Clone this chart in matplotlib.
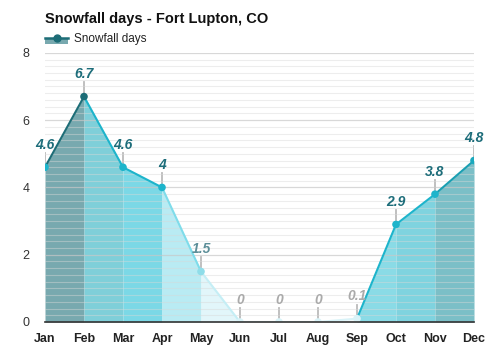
import matplotlib.pyplot as plt
from matplotlib.lines import Line2D
from matplotlib.patches import Rectangle
import numpy as np

plt.rcParams['font.family'] = ['Liberation Sans', 'DejaVu Sans']

months = ['Jan', 'Feb', 'Mar', 'Apr', 'May', 'Jun', 'Jul', 'Aug', 'Sep', 'Oct', 'Nov', 'Dec']
snow_days = [4.6, 6.7, 4.6, 4.0, 1.5, 0.0, 0.0, 0.0, 0.1, 2.9, 3.8, 4.8]
value_labels = ['4.6', '6.7', '4.6', '4', '1.5', '0', '0', '0', '0.1', '2.9', '3.8', '4.8']

# segment styling (fill + line colour between consecutive months)
seg_fill = ['#78a9af', '#7fcfd9', '#7bd8e6', '#b9ebf3', '#e2f6fa', '#f3fbfd', '#f3fbfd',
            '#f3fbfd', '#8adbe6', '#7fd3df', '#7bbfc7']
seg_line = ['#1d6d77', '#1db4cb', '#1db4cb', '#7fdcea', '#c5eef5', '#d9f3f8', '#d9f3f8',
            '#d9f3f8', '#1db4cb', '#1db4cb', '#1a9fb2']
marker_col = ['#1db4cb', '#1d6d77', '#1db4cb', '#1db4cb', '#8fdde9', '#d9f3f8', '#d9f3f8',
              '#d9f3f8', '#d9f3f8', '#1db4cb', '#1db4cb', '#1aa9bd']
label_col = ['#1d6d7a', '#1d6d7a', '#1d6d7a', '#1d6d7a', '#5d8f99', '#aaaaaa', '#aaaaaa',
             '#aaaaaa', '#aaaaaa', '#1d6d7a', '#1d6d7a', '#1d6d7a']

fig = plt.figure(figsize=(5, 3.5), dpi=100)
ax = fig.add_axes([0.09, 0.08, 0.858, 0.769])

x = np.arange(len(months))
y = np.array(snow_days)

for i in range(len(x) - 1):
    ax.fill_between(x[i:i + 2], y[i:i + 2], 0, color=seg_fill[i], lw=0, zorder=1)
    ax.plot(x[i:i + 2], y[i:i + 2], color=seg_line[i], lw=1.5, zorder=3,
            solid_capstyle='round')

ax.scatter(x, y, s=30, c=marker_col, zorder=4, linewidths=0)

# value annotations with small leader ticks
for xi, yi, lab, c in zip(x, y, value_labels, label_col):
    ax.plot([xi, xi], [yi + 0.12, yi + 0.42], color='#bbbbbb', lw=1.3, zorder=2)
    ax.text(xi, yi + 0.46, lab, ha='center', va='bottom', fontsize=10,
            fontweight='bold', fontstyle='italic', color=c, zorder=5)

ax.set_xlim(0, 11)
ax.set_ylim(0, 8)
ax.set_yticks([0, 2, 4, 6, 8])
ax.set_yticks(np.arange(0, 8.01, 0.2), minor=True)
ax.set_axisbelow(False)
ax.grid(which='major', axis='y', color='#c8c8c8', lw=0.9, alpha=0.7, zorder=2)
ax.grid(which='minor', axis='y', color='#d8d8d8', lw=0.8, alpha=0.45, zorder=2)

ax.set_xticks(x)
ax.set_xticklabels(months, fontweight='bold', fontsize=9, color='#222222')
ax.tick_params(axis='x', length=0, pad=8)
ax.tick_params(axis='y', which='both', length=0, labelsize=9, labelcolor='#333333', pad=11)
for side in ['top', 'right', 'left']:
    ax.spines[side].set_visible(False)
ax.spines['bottom'].set_color('#333333')
ax.spines['bottom'].set_linewidth(1.2)
ax.spines['bottom'].set_zorder(6)

fig.text(0.09, 0.945, 'Snowfall days - Fort Lupton, CO', fontsize=10.5,
         fontweight='bold', color='#111111', va='center')

# legend swatch: filled box with line and marker
fig.patches.append(Rectangle((0.09, 0.875), 0.046, 0.017, transform=fig.transFigure,
                             facecolor='#78a9af', edgecolor='none'))
fig.lines.append(Line2D([0.09, 0.136], [0.892, 0.892], transform=fig.transFigure,
                        color='#1d6d77', lw=1.8))
fig.lines.append(Line2D([0.113], [0.892], transform=fig.transFigure, marker='o',
                        ms=5, color='#1d6d77', lw=0))
fig.text(0.148, 0.889, 'Snowfall days', fontsize=8.5, color='#222222', va='center')

fig.savefig('out.png', dpi=100)
